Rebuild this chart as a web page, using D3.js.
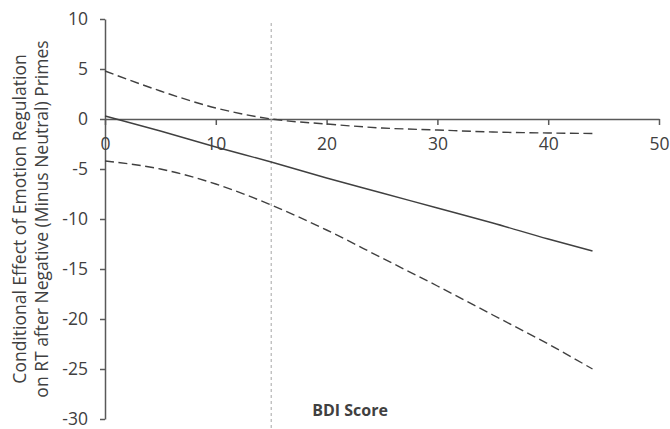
<!DOCTYPE html>
<html>
<head>
<meta charset="utf-8">
<script src="https://cdn.jsdelivr.net/npm/d3@7"></script>
<style>
  html, body { margin: 0; padding: 0; background: #fff; }
  svg { display: block; }
  text { font-family: "Open Sans", sans-serif; fill: #404040; }
</style>
</head>
<body>
<svg id="chart" width="670" height="429"></svg>
<script>
// BDI score at which each value is read
const bdi = [0, 5, 10, 15, 20, 25, 30, 35, 40, 44];
// Conditional effect (point estimate)
const effect = [0.3, -1.2, -2.8, -4.3, -5.9, -7.4, -8.9, -10.4, -12.0, -13.2];
// Upper and lower confidence bounds
const upperCI = [4.8, 2.8, 1.1, 0.0, -0.5, -0.9, -1.1, -1.3, -1.4, -1.45];
const lowerCI = [-4.2, -5.0, -6.5, -8.6, -11.1, -13.9, -16.7, -19.6, -22.5, -25.0];
// Johnson-Neyman boundary
const jnPoint = [15];
// Axis tick values
const xTicks = [0, 10, 20, 30, 40, 50];
const yTicks = [10, 5, 0, -5, -10, -15, -20, -25, -30];

const svg = d3.select("#chart");
const W = 670, H = 429;
const FONT = "'Open Sans', sans-serif";
const TICK_FONT = 17.5;

const x = d3.scaleLinear().domain([0, 50]).range([105, 659]);
const y = d3.scaleLinear().domain([-30, 10]).range([419, 19]);

const axisColor = "#595959";
const lineColor = "#404040";
const fmt = d => String(d); // plain hyphen for negatives

// Y axis
const gy = svg.append("g")
  .attr("transform", `translate(${x(0)},0)`)
  .call(d3.axisLeft(y).tickValues(yTicks).tickFormat(fmt)
    .tickSize(5).tickSizeOuter(0).tickPadding(12));
gy.select(".domain").attr("stroke", axisColor).attr("stroke-width", 1.5);
gy.selectAll(".tick line").attr("stroke", axisColor).attr("stroke-width", 1.5);
gy.selectAll(".tick text").attr("font-size", TICK_FONT).attr("fill", "#404040")
  .attr("font-family", FONT);

// X axis at zero
const gx = svg.append("g")
  .attr("transform", `translate(0,${y(0)})`)
  .call(d3.axisBottom(x).tickValues(xTicks).tickFormat(fmt)
    .tickSize(6).tickSizeOuter(0).tickPadding(13));
gx.select(".domain").attr("stroke", axisColor).attr("stroke-width", 1.5);
gx.selectAll(".tick line").attr("stroke", axisColor).attr("stroke-width", 1.5);
gx.selectAll(".tick text").attr("font-size", TICK_FONT).attr("fill", "#404040")
  .attr("font-family", FONT);

// Johnson-Neyman vertical marker
svg.selectAll(".jn").data(jnPoint).enter().append("line")
  .attr("class", "jn")
  .attr("x1", d => x(d)).attr("x2", d => x(d))
  .attr("y1", 23).attr("y2", H)
  .attr("stroke", "#a6a6a6").attr("stroke-width", 1)
  .attr("stroke-dasharray", "3,3");

const line = d3.line().curve(d3.curveMonotoneX)
  .x(d => x(d[0])).y(d => y(d[1]));

svg.append("path")
  .datum(d3.zip(bdi, upperCI))
  .attr("d", line).attr("fill", "none")
  .attr("stroke", lineColor).attr("stroke-width", 1.4)
  .attr("stroke-dasharray", "9,4.5");

svg.append("path")
  .datum(d3.zip(bdi, lowerCI))
  .attr("d", line).attr("fill", "none")
  .attr("stroke", lineColor).attr("stroke-width", 1.4)
  .attr("stroke-dasharray", "9,4.5");

svg.append("path")
  .datum(d3.zip(bdi, effect))
  .attr("d", line).attr("fill", "none")
  .attr("stroke", lineColor).attr("stroke-width", 1.4);

// Axis titles
const yTitle = svg.append("text")
  .attr("transform", "translate(26,219) rotate(-90)")
  .attr("text-anchor", "middle")
  .attr("font-size", 17.5);
yTitle.append("tspan").attr("x", 0).attr("dy", 0).text("Conditional Effect of Emotion Regulation");
yTitle.append("tspan").attr("x", 0).attr("dy", 22).text("on RT after Negative (Minus Neutral) Primes");

svg.append("text")
  .attr("x", 350).attr("y", 416)
  .attr("text-anchor", "middle")
  .attr("font-size", 16).attr("font-weight", "bold")
  .attr("fill", "#262626")
  .text("BDI Score");
</script>
</body>
</html>
